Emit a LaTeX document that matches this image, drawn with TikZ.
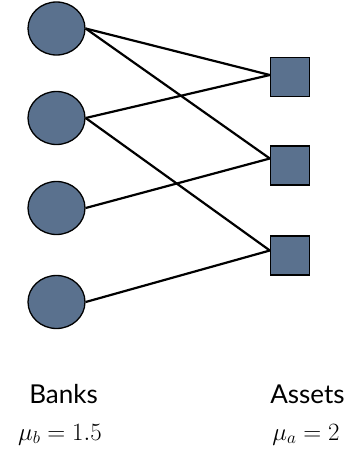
\documentclass[tikz,border=0pt]{standalone}
\usepackage{fontspec}
\setsansfont{Lato}
\usetikzlibrary{shapes.geometric}
\definecolor{nodefill}{RGB}{90,113,142}
\tikzset{
  bank/.style={ellipse, draw=black, line width=1.3pt, fill=nodefill, minimum width=57pt, minimum height=53pt, inner sep=0pt},
  asset/.style={rectangle, draw=black, line width=1.3pt, fill=nodefill, minimum size=39pt, inner sep=0pt},
  link/.style={line width=2.2pt, black},
  lbl/.style={font=\sffamily\fontsize{26}{29}\selectfont, anchor=base, inner sep=0pt},
  mlbl/.style={font=\fontsize{27}{30}\selectfont, anchor=base, inner sep=0pt}
}
\begin{document}
\begin{tikzpicture}[x=1pt,y=-1pt]
\useasboundingbox (0,0) rectangle (348,451);
\node[bank] (b1) at (56.5,28.5) {};
\node[bank] (b2) at (56.5,118) {};
\node[bank] (b3) at (56.5,208) {};
\node[bank] (b4) at (56.5,302) {};
\node[asset] (a1) at (290,77) {};
\node[asset] (a2) at (290,165.5) {};
\node[asset] (a3) at (290,255.5) {};
\draw[link] (b1.east) -- ([yshift=2pt]a1.west);
\draw[link] (b1.east) -- ([yshift=7pt]a2.west);
\draw[link] (b2.east) -- ([yshift=2pt]a1.west);
\draw[link] (b2.east) -- ([yshift=5pt]a3.west);
\draw[link] (b3.east) -- ([yshift=7pt]a2.west);
\draw[link] (b4.east) -- ([yshift=5pt]a3.west);
\node[lbl] (tb) at (63.5,403) {Banks};
\node[lbl] (ta) at (307.5,403) {Assets};
\node[mlbl] (mb) at (60,440) {$\mu_b = 1.5$};
\node[mlbl] (ma) at (306,440) {$\mu_a = 2$};
\end{tikzpicture}
\end{document}
